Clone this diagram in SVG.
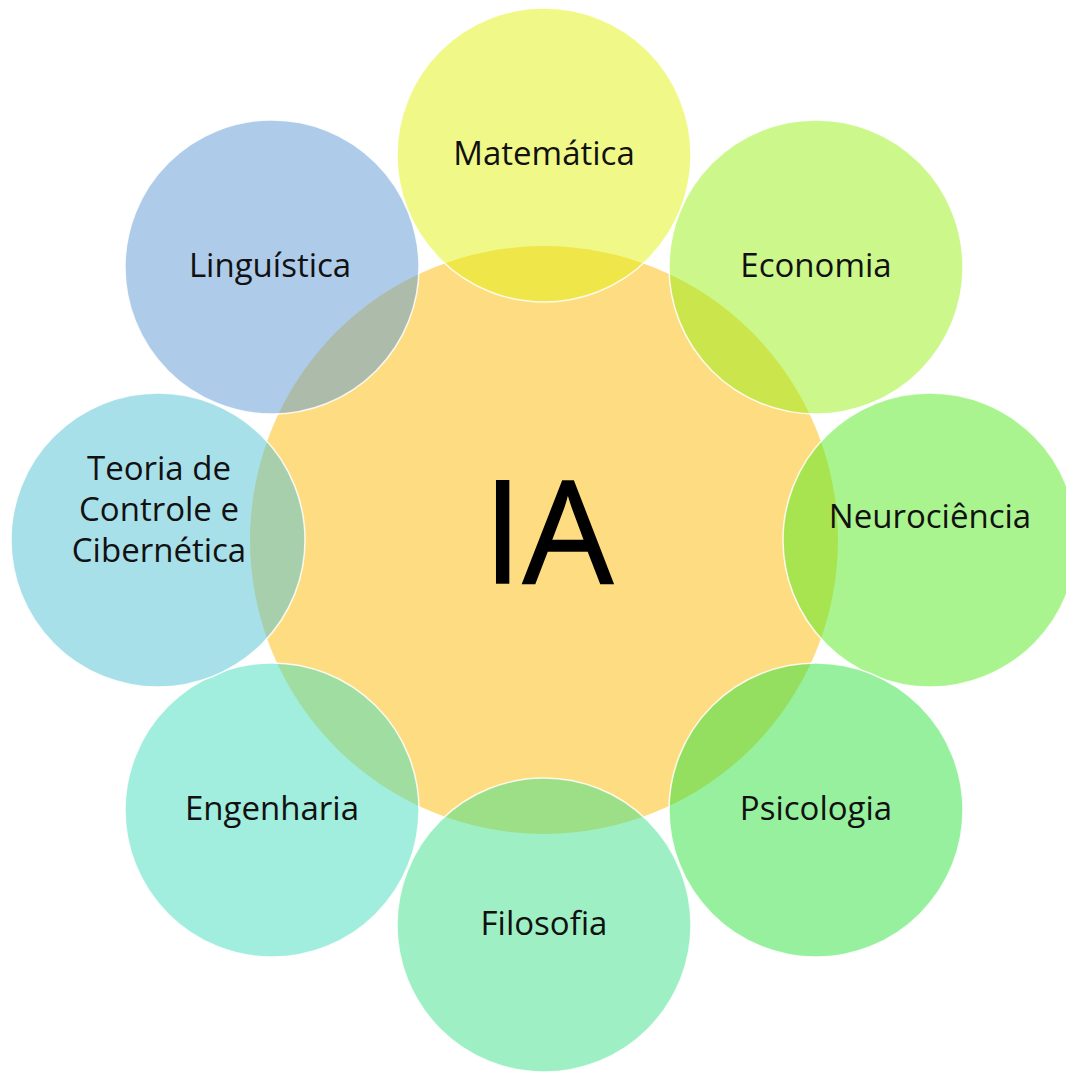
<svg xmlns="http://www.w3.org/2000/svg" width="1066" height="1072" viewBox="0 0 1066 1072">
<style>
  .c { fill-opacity: 0.5; stroke: #ffffff; stroke-width: 1.5; stroke-opacity: 0.85; }
  .t { font-family: "Open Sans", "Liberation Sans", sans-serif; font-size: 33px; fill: #111111; text-anchor: middle; }
  .big { font-family: "Open Sans", "Liberation Sans", sans-serif; font-size: 143px; fill: #000000; text-anchor: middle; stroke: #000000; stroke-width: 1.5; }
</style>
<rect width="1066" height="1072" fill="#ffffff"/>
<g id="ia">
  <circle cx="544" cy="540" r="294" fill="#FBB905" fill-opacity="0.5"/>
  <text class="big" x="548" y="583">IA</text>
</g>
<g id="matematica">
  <circle class="c" cx="544" cy="155" r="147" fill="#E1F111"/>
  <text class="t" x="544" y="165">Matemática</text>
</g>
<g id="economia">
  <circle class="c" cx="816" cy="267" r="147" fill="#99EF15"/>
  <text class="t" x="816" y="277">Economia</text>
</g>
<g id="neurociencia">
  <circle class="c" cx="930" cy="540" r="147" fill="#53E91D"/>
  <text class="t" x="930" y="528">Neurociência</text>
</g>
<g id="psicologia">
  <circle class="c" cx="816" cy="810" r="147" fill="#2DE13D"/>
  <text class="t" x="816" y="820">Psicologia</text>
</g>
<g id="filosofia">
  <circle class="c" cx="544" cy="925" r="147" fill="#3DE189"/>
  <text class="t" x="544" y="935">Filosofia</text>
</g>
<g id="engenharia">
  <circle class="c" cx="272" cy="810" r="147" fill="#43DDBD"/>
  <text class="t" x="272" y="820">Engenharia</text>
</g>
<g id="teoria">
  <circle class="c" cx="158" cy="540" r="147" fill="#51C1D5"/>
  <text class="t" x="159" y="480">Teoria de</text>
  <text class="t" x="159" y="521">Controle e</text>
  <text class="t" x="159" y="562">Cibernética</text>
</g>
<g id="linguistica">
  <circle class="c" cx="272" cy="267" r="147" fill="#5D99D3"/>
  <text class="t" x="270" y="277">Linguística</text>
</g>
<g id="connectors"></g>
</svg>
